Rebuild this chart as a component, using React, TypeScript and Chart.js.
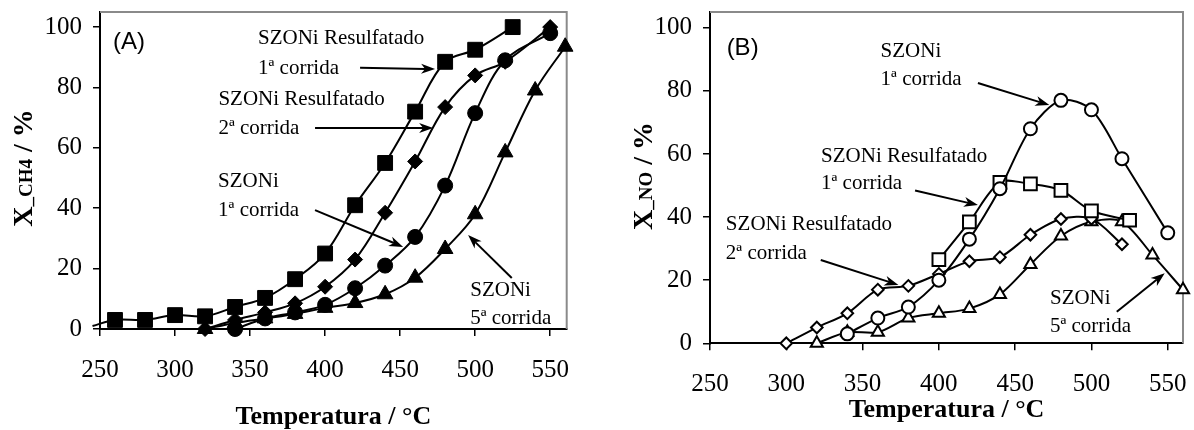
import React, { useEffect, useRef } from "react";
import { Chart, registerables } from "chart.js";

Chart.register(...registerables);

const SERIF = '"Liberation Serif", "Times New Roman", serif';
const SANS = '"Liberation Sans", Arial, sans-serif';

// ---------- Panel A : X_CH4 (%) vs temperature ----------
const tempA_resulf1 = [245, 260, 280, 300, 320, 340, 360, 380, 400, 420, 440, 460, 480, 500, 525];
const convA_resulf1 = [1, 3, 3, 4.6, 4.2, 7.3, 10.3, 16.5, 25, 41, 55, 72, 88.5, 92.5, 100];
const tempA_resulf2 = [320, 340, 360, 380, 400, 420, 440, 460, 480, 500, 520, 550];
const convA_resulf2 = [0, 3, 5.5, 8.5, 14, 23, 38.5, 55.5, 73.5, 84, 88.5, 100];
const tempA_run1 = [340, 360, 380, 400, 420, 440, 460, 480, 500, 520, 550];
const convA_run1 = [0, 3.5, 5.5, 8, 13.5, 21, 30.5, 47.5, 71.5, 89, 98];
const tempA_run5 = [320, 340, 360, 380, 400, 420, 440, 460, 480, 500, 520, 540, 560];
const convA_run5 = [0, 2, 3.5, 5, 7, 8.6, 11.5, 17, 26.5, 38, 58.5, 79, 93.5];

// ---------- Panel B : X_NO (%) vs temperature ----------
const tempB_run1 = [340, 360, 380, 400, 420, 440, 460, 480, 500, 520, 550];
const convB_run1 = [3, 8, 11.5, 20, 33, 49, 68, 77, 74, 58.5, 35];
const tempB_resulf1 = [400, 420, 440, 460, 480, 500, 525];
const convB_resulf1 = [26.5, 38.5, 51, 50.5, 48.5, 42, 39];
const tempB_resulf2 = [300, 320, 340, 360, 380, 400, 420, 440, 460, 480, 500, 520];
const convB_resulf2 = [0, 5, 9.5, 17, 18.2, 22, 26, 27.3, 34.4, 39.4, 39.5, 31.4];
const tempB_run5 = [320, 340, 360, 380, 400, 420, 440, 460, 480, 500, 520, 540, 560];
const convB_run5 = [0, 3.5, 3.5, 8, 9.5, 11, 15.5, 25, 34, 38.5, 38.5, 28, 17];

// ---------- Axis ticks ----------
const xTickValues = [250, 300, 350, 400, 450, 500, 550];
const yTickValues = [0, 20, 40, 60, 80, 100];

// ---------- Texts ----------
const xTitle = "Temperatura / °C";
const yTitleA = [
  { t: "X", s: 28 },
  { t: "_CH4", s: 19 },
  { t: " / %", s: 28 },
];
const yTitleB = [
  { t: "X", s: 28 },
  { t: "_NO", s: 19 },
  { t: " / %", s: 28 },
];

const notesA = [
  { lines: ["SZONi Resulfatado", "1ª corrida"], x: 355.3, y: [96.3, 86.4], arrow: [423.3, 86.5, 473.3, 86.1] },
  { lines: ["SZONi Resulfatado", "2ª corrida"], x: 328.9, y: [76.1, 66.5], arrow: [393.3, 66.6, 472, 66.6] },
  { lines: ["SZONi", "1ª corrida"], x: 328.7, y: [48.7, 39.1], arrow: [393.3, 39.4, 452, 27.2] },
  { lines: ["SZONi", "5ª corrida"], x: 496.7, y: [12.9, 3.6], arrow: [524.4, 16.9, 495.3, 31.1] },
];
const notesB = [
  { lines: ["SZONi", "1ª corrida"], x: 361.8, y: [92.4, 83.5], arrow: [425.6, 82.5, 472.4, 75.5] },
  { lines: ["SZONi Resulfatado", "1ª corrida"], x: 322.8, y: [59.1, 50.5], arrow: [384.4, 48.4, 425.6, 43.8] },
  { lines: ["SZONi Resulfatado", "2ª corrida"], x: 260.4, y: [37.5, 28.5], arrow: [322.6, 26.4, 373.5, 18.5] },
  { lines: ["SZONi", "5ª corrida"], x: 472.8, y: [14.3, 5.3], arrow: [516.6, 10.0, 548, 22.2] },
];

function pts(xs: number[], ys: number[]) {
  return xs.map((x, i) => ({ x, y: ys[i] }));
}

function ds(label: string, xs: number[], ys: number[], style: string, r: number, open: boolean, tension: number) {
  return {
    label,
    data: pts(xs, ys),
    borderColor: "#000",
    borderWidth: 2,
    pointStyle: style,
    pointRadius: (c: any) => (c.raw && c.raw.x < 250 ? 0 : r),
    pointBackgroundColor: open ? "#fff" : "#000",
    pointBorderColor: "#000",
    pointBorderWidth: open ? 2 : 1,
    tension,
    fill: false,
    clip: false as any,
  };
}

function drawArrow(ctx: CanvasRenderingContext2D, x1: number, y1: number, x2: number, y2: number) {
  const ang = Math.atan2(y2 - y1, x2 - x1);
  const L = 14, W = 5, notch = 4;
  ctx.beginPath();
  ctx.moveTo(x1, y1);
  ctx.lineTo(x2 - Math.cos(ang) * (L - notch), y2 - Math.sin(ang) * (L - notch));
  ctx.lineWidth = 2;
  ctx.strokeStyle = "#000";
  ctx.stroke();
  const bx = x2 - Math.cos(ang) * L, by = y2 - Math.sin(ang) * L;
  const nx = -Math.sin(ang), ny = Math.cos(ang);
  ctx.beginPath();
  ctx.moveTo(x2, y2);
  ctx.lineTo(bx + nx * W, by + ny * W);
  ctx.lineTo(x2 - Math.cos(ang) * (L - notch), y2 - Math.sin(ang) * (L - notch));
  ctx.lineTo(bx - nx * W, by - ny * W);
  ctx.closePath();
  ctx.fillStyle = "#000";
  ctx.fill();
}

type PanelCfg = {
  datasets: any[];
  xMax: number;
  yAxisWidth: number;
  xAxisHeight: number;
  padRight: number;
  tag: { text: string; x: number; y: number };
  notes: typeof notesA;
  yTitle: { t: string; s: number }[];
  yTitleBaseX: number;
  yTitleCenterY: number;
  xTitleBaseY: number;
};

function makeOverlay(cfg: PanelCfg) {
  return {
    id: "overlay",
    beforeDatasetsDraw(chart: any) {
      const { ctx, chartArea: a } = chart;
      ctx.save();
      ctx.strokeStyle = "#8a8a8a";
      ctx.lineWidth = 2;
      ctx.beginPath();
      ctx.moveTo(a.left, a.top);
      ctx.lineTo(a.right, a.top);
      ctx.lineTo(a.right, a.bottom);
      ctx.stroke();
      ctx.restore();
    },
    afterDraw(chart: any) {
      const ctx: CanvasRenderingContext2D = chart.ctx;
      const xs = chart.scales.x, ys = chart.scales.y, a = chart.chartArea;
      ctx.save();
      ctx.fillStyle = "#000";
      ctx.textAlign = "left";
      ctx.textBaseline = "middle";
      ctx.font = `24px ${SANS}`;
      ctx.fillText(cfg.tag.text, xs.getPixelForValue(cfg.tag.x), ys.getPixelForValue(cfg.tag.y));

      for (const n of cfg.notes) {
        ctx.fillStyle = "#000";
        ctx.textAlign = "left";
        ctx.textBaseline = "middle";
        ctx.font = `21px ${SERIF}`;
        n.lines.forEach((t, i) => ctx.fillText(t, xs.getPixelForValue(n.x), ys.getPixelForValue(n.y[i])));
        drawArrow(
          ctx,
          xs.getPixelForValue(n.arrow[0]),
          ys.getPixelForValue(n.arrow[1]),
          xs.getPixelForValue(n.arrow[2]),
          ys.getPixelForValue(n.arrow[3])
        );
      }

      // x title
      ctx.fillStyle = "#000";
      ctx.font = `bold 26px ${SERIF}`;
      ctx.textAlign = "center";
      ctx.textBaseline = "alphabetic";
      ctx.fillText(xTitle, (a.left + a.right) / 2, cfg.xTitleBaseY);

      // y title (rotated)
      ctx.translate(cfg.yTitleBaseX, cfg.yTitleCenterY);
      ctx.rotate(-Math.PI / 2);
      ctx.textAlign = "left";
      let total = 0;
      const widths = cfg.yTitle.map((p) => {
        ctx.font = `bold ${p.s}px ${SERIF}`;
        const w = ctx.measureText(p.t).width;
        total += w;
        return w;
      });
      let x = -total / 2;
      cfg.yTitle.forEach((p, i) => {
        ctx.font = `bold ${p.s}px ${SERIF}`;
        ctx.fillText(p.t, x, 0);
        x += widths[i];
      });
      ctx.restore();
    },
  };
}

function Panel({ cfg }: { cfg: PanelCfg }) {
  const ref = useRef<HTMLCanvasElement>(null);
  useEffect(() => {
    const chart = new Chart(ref.current as HTMLCanvasElement, {
      type: "line",
      data: { datasets: cfg.datasets },
      options: {
        responsive: false,
        animation: false,
        events: [],
        layout: { padding: { top: 12, right: cfg.padRight, left: 0, bottom: 0 } },
        plugins: { legend: { display: false }, tooltip: { enabled: false } },
        scales: {
          x: {
            type: "linear",
            min: 250,
            max: cfg.xMax,
            afterBuildTicks: (s: any) => {
              s.ticks = xTickValues.map((v) => ({ value: v }));
            },
            afterFit: (s: any) => {
              s.height = cfg.xAxisHeight;
              s.paddingLeft = 0;
              s.paddingRight = 0;
              s.paddingTop = 0;
              s.paddingBottom = 0;
            },
            grid: { drawOnChartArea: false, drawTicks: true, tickLength: 7, color: "#000", lineWidth: 1.5 },
            border: { display: true, color: "#000", width: 2 },
            ticks: {
              color: "#000",
              font: { family: SERIF, size: 25 },
              padding: 19,
              maxRotation: 0,
              autoSkip: false,
              callback: (v: any) => String(v),
            },
          },
          y: {
            type: "linear",
            min: 0,
            max: 105,
            afterBuildTicks: (s: any) => {
              s.ticks = yTickValues.map((v) => ({ value: v }));
            },
            afterFit: (s: any) => {
              s.width = cfg.yAxisWidth;
              s.paddingLeft = 0;
              s.paddingRight = 0;
              s.paddingTop = 0;
              s.paddingBottom = 0;
            },
            grid: { drawOnChartArea: false, drawTicks: true, tickLength: 7, color: "#000", lineWidth: 1.5 },
            border: { display: true, color: "#000", width: 2 },
            ticks: {
              color: "#000",
              font: { family: SERIF, size: 25 },
              padding: 11,
              autoSkip: false,
              callback: (v: any) => String(v),
            },
          },
        },
      } as any,
      plugins: [makeOverlay(cfg) as any],
    });
    return () => chart.destroy();
  }, []);
  return <canvas ref={ref} width={597} height={430} style={{ display: "block", width: 597, height: 430 }} />;
}

const panelA: PanelCfg = {
  datasets: [
    ds("SZONi Resulfatado 1ª corrida", tempA_resulf1, convA_resulf1, "rect", 10.5, false, 0.35),
    ds("SZONi Resulfatado 2ª corrida", tempA_resulf2, convA_resulf2, "rectRot", 7.5, false, 0.35),
    ds("SZONi 1ª corrida", tempA_run1, convA_run1, "circle", 7.5, false, 0.35),
    ds("SZONi 5ª corrida", tempA_run5, convA_run5, "triangle", 9, false, 0.35),
  ],
  xMax: 561,
  yAxisWidth: 100,
  xAxisHeight: 101,
  padRight: 30.3,
  tag: { text: "(A)", x: 258.7, y: 94.8 },
  notes: notesA,
  yTitle: yTitleA,
  yTitleBaseX: 32,
  yTitleCenterY: 168,
  xTitleBaseY: 424,
};

const panelB: PanelCfg = {
  datasets: [
    ds("SZONi 1ª corrida", tempB_run1, convB_run1, "circle", 6.5, true, 0.3),
    ds("SZONi Resulfatado 1ª corrida", tempB_resulf1, convB_resulf1, "rect", 9, true, 0.3),
    ds("SZONi Resulfatado 2ª corrida", tempB_resulf2, convB_resulf2, "rectRot", 5.8, true, 0.3),
    ds("SZONi 5ª corrida", tempB_run5, convB_run5, "triangle", 7, true, 0.3),
  ],
  xMax: 560,
  yAxisWidth: 113,
  xAxisHeight: 86.7,
  padRight: 7.5,
  tag: { text: "(B)", x: 260.9, y: 93.5 },
  notes: notesB,
  yTitle: yTitleB,
  yTitleBaseX: 55,
  yTitleCenterY: 176,
  xTitleBaseY: 417,
};

export default function App() {
  return (
    <div
      style={{
        position: "absolute",
        left: 0,
        top: 0,
        width: 1194,
        height: 430,
        display: "flex",
        background: "#fff",
      }}
    >
      <Panel cfg={panelA} />
      <Panel cfg={panelB} />
    </div>
  );
}
